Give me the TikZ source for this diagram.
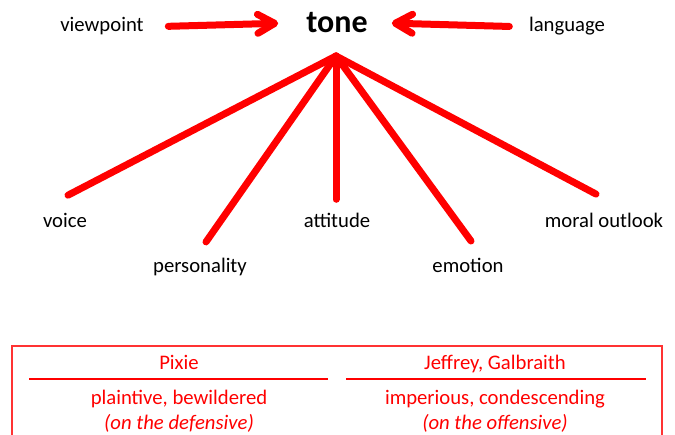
\documentclass[tikz,border=0pt]{standalone}
\usepackage{fontspec}
\setmainfont{Carlito}
\usetikzlibrary{arrows.meta}
\tikzset{
  lbl/.style={font=\fontsize{20.7}{24}\selectfont, inner sep=0pt, text height=14pt, text depth=4pt},
  cell/.style={lbl, text=red},
  fan/.style={red, line width=7pt, line cap=round},
  feed/.style={fan, -{Straight Barb[length=17pt, width=19pt, round]}}
}
\begin{document}
\begin{tikzpicture}[x=1pt, y=-1pt]
  \useasboundingbox (0,0) rectangle (675,435);
  % top row
  \node[lbl] (viewpoint) at (102,27) {viewpoint};
  \node[inner sep=0pt, font=\bfseries\fontsize{32}{36}\selectfont] (tone) at (337,22.5) {tone};
  \node[lbl] (language) at (567,27) {language};
  \draw[feed, shorten <=24.5pt, shorten >=28pt] (viewpoint.east) -- (tone.west);
  \draw[feed, shorten <=19.5pt, shorten >=24pt] (language.west) -- (tone.east);
  % fan below tone
  \coordinate (apex) at (336,56);
  \foreach \n/\x/\y/\t in {voice/65/223/voice, personality/200/268/personality, attitude/337/223/attitude, emotion/468/268/emotion, moral/604/223/moral outlook} {
    \node[lbl] (\n) at (\x,\y) {\t};
  }
  \foreach \n/\dx/\dy in {voice/3/18.6, personality/6/16.9, attitude/-1/14.5, emotion/3/17.8, moral/-8/19.7} {
    \draw[fan] (apex) -- ([xshift=\dx pt, yshift=\dy pt]\n.north);
  }
  % table of characters
  \draw[red!80, line width=1.2pt] (12,440) -- (12,346) -- (662,346) -- (662,440);
  \draw[red, line width=1.2pt] (29,379) -- (328,379);
  \draw[red, line width=1.2pt] (346,379) -- (646,379);
  \node[cell] (pixie) at (179,365) {Pixie};
  \node[cell] (jeffrey) at (495,365) {Jeffrey, Galbraith};
  \node[cell] (pixietone) at (179,400) {plaintive, bewildered};
  \node[cell] (jeffreytone) at (495,400) {imperious, condescending};
  \node[cell, font=\itshape\fontsize{20.7}{24}\selectfont] (pixiestance) at (179,424.5) {(on the defensive)};
  \node[cell, font=\itshape\fontsize{20.7}{24}\selectfont] (jeffreystance) at (495,424.5) {(on the offensive)};
\end{tikzpicture}
\end{document}
